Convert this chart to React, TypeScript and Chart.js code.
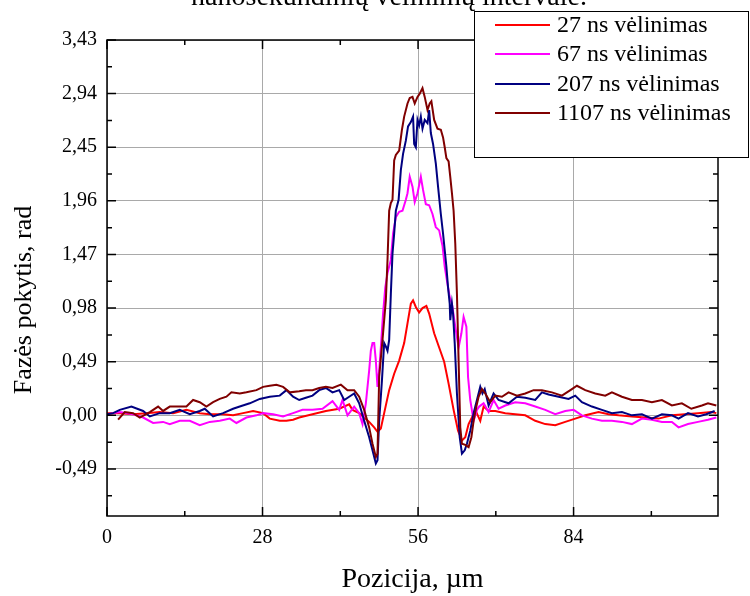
import React, { useEffect, useRef } from 'react';
import { Chart, registerables } from 'chart.js';

Chart.register(...registerables);

// ---------- data ----------
const seriesLabels = ['27 ns vėlinimas', '67 ns vėlinimas', '207 ns vėlinimas', '1107 ns vėlinimas'];
const seriesColors = ['#ff0000', '#ff00ff', '#000080', '#800000'];

const titleText = 'nanosekundinių vėlinimų intervale.';
const xAxisTitle = 'Pozicija, µm';
const yAxisTitle = 'Fazės pokytis, rad';

const xTickValues = [0, 28, 56, 84];
const xTickLabels = ['0', '28', '56', '84'];
const xMinorTicks = [14, 42, 70, 98];
const yTickValues = [-0.49, 0, 0.49, 0.98, 1.47, 1.96, 2.45, 2.94, 3.43];
const yTickLabels = ['-0,49', '0,00', '0,49', '0,98', '1,47', '1,96', '2,45', '2,94', '3,43'];
const yMinorTicks = [-0.735, -0.245, 0.245, 0.735, 1.225, 1.715, 2.205, 2.695, 3.185];

const redX = [0, 2.3, 4.7, 7.1, 9.5, 11.9, 14.3, 16.7, 18.5, 20.9, 22.7, 24.5, 26.3, 28.1, 29.3, 31.1, 32.3, 33.5, 34.6, 37.0, 39.4, 41.8, 43.6,
  44.2, 45.4, 46.3, 47.2, 48.1, 48.7, 49.3, 49.9, 50.8, 51.7, 52.6, 53.5, 54.1, 54.7, 55.1, 55.6, 56.2, 56.8, 57.5, 58.0, 58.9, 59.8, 60.7, 61.5, 62.4, 63.2, 63.9, 64.5, 65.1, 65.7, 66.3, 67.2, 67.8,
  68.7, 69.9, 71.7, 73.5, 75.3, 77.1, 78.9, 80.7, 82.5, 84.3, 86.1, 88.5, 90.3, 92.1, 94.5, 96.9, 99.3, 101.7, 104.0, 106.4, 108.8, 109.7];
const redY = [0.02, 0.02, 0.01, 0.02, 0.03, 0.02, 0.05, 0.02, 0.01, 0.01, 0.0, 0.02, 0.04, 0.02, -0.03, -0.05, -0.05, -0.04, -0.02, 0.01, 0.04, 0.06, 0.1,
  0.05, 0.02, -0.02, -0.06, -0.11, -0.15, -0.12, 0.02, 0.23, 0.38, 0.5, 0.66, 0.84, 1.02, 1.05, 0.99, 0.94, 0.98, 1.0, 0.93, 0.75, 0.62, 0.49, 0.29, 0.05, -0.14, -0.23, -0.2, -0.08, -0.02, 0.05, -0.05, 0.08,
  0.04, 0.04, 0.02, 0.01, 0.0, -0.05, -0.08, -0.09, -0.06, -0.03, 0.0, 0.03, 0.01, 0.0, -0.01, -0.02, -0.03, 0.0, 0.01, 0.02, 0.03, 0.02];

const magentaX = [0, 2.3, 4.7, 6.5, 8.3, 10.1, 11.3, 13.1, 14.9, 16.7, 18.5, 20.3, 22.1, 23.3, 25.1, 26.9, 28.1, 29.9, 31.7, 33.5, 35.2, 37.0, 38.8, 40.6, 41.8, 42.4, 43.3,
  44.5, 45.4, 46.0, 46.6, 47.2, 47.5, 47.8, 48.1, 48.4, 48.7, 49.0, 49.3, 49.7, 50.1, 50.5, 50.8, 51.1, 51.5, 52.0, 52.6, 53.2, 53.8, 54.1, 54.5, 55.0, 55.4, 55.9, 56.5, 56.9, 57.4, 58.0, 58.6, 59.2, 59.8, 60.4, 60.8, 61.3, 61.7, 62.1, 62.7, 63.3, 63.8, 64.2, 64.7, 65.0, 65.4, 66.0, 66.6,
  67.0, 67.8, 68.7, 69.6, 70.5, 71.7, 73.5, 75.3, 77.1, 78.9, 80.7, 82.5, 84.0, 85.5, 87.3, 89.1, 90.9, 92.7, 94.5, 96.3, 98.1, 99.9, 101.7, 102.9, 104.6, 106.4, 108.2, 109.7];
const magentaY = [0.01, 0.03, 0.01, -0.02, -0.07, -0.06, -0.08, -0.05, -0.05, -0.09, -0.06, -0.05, -0.03, -0.07, -0.02, 0.0, 0.02, 0.01, -0.01, 0.02, 0.05, 0.05, 0.06, 0.13, 0.05, 0.14, 0.0,
  0.08, 0.02, -0.08, 0.11, 0.41, 0.59, 0.66, 0.66, 0.5, 0.26, 0.41, 0.62, 0.93, 1.17, 1.3, 1.36, 1.42, 1.66, 1.81, 1.86, 1.87, 1.97, 2.03, 2.18, 2.09, 1.95, 2.03, 2.18, 2.06, 1.93, 1.92, 1.84, 1.72, 1.69, 1.55, 1.36, 1.2, 1.08, 1.02, 0.81, 0.62, 0.75, 0.9, 0.81, 0.35, 0.14, -0.05, 0.05,
  0.08, 0.11, 0.03, 0.14, 0.06, 0.09, 0.12, 0.11, 0.08, 0.05, 0.01, 0.04, 0.05, 0.0, -0.03, -0.05, -0.05, -0.06, -0.08, -0.03, -0.04, -0.06, -0.06, -0.11, -0.08, -0.06, -0.04, -0.02];

const navyX = [0, 1.1, 2.3, 4.4, 6.5, 7.7, 9.5, 11.3, 13.1, 14.9, 16.7, 17.6, 19.1, 20.9, 22.7, 23.9, 25.7, 27.5, 29.3, 31.1, 32.3, 33.5, 34.6, 35.8, 37.0, 38.2, 39.4, 40.6, 41.8, 42.7, 43.6,
  44.5, 45.4, 46.3, 47.2, 47.8, 48.4, 48.7, 49.0, 49.5, 49.9, 50.2, 50.5, 50.8, 51.1, 51.4, 51.7, 52.0, 52.5, 52.9, 53.3, 53.8, 54.2, 54.7, 55.1, 55.3, 55.6, 55.9, 56.2, 56.5, 56.8, 57.2, 57.7, 58.0, 58.3, 58.7, 59.2, 59.6, 60.1, 60.5, 60.8, 61.1, 61.4, 61.7, 61.8, 62.1, 62.3, 62.6, 63.0, 63.5, 63.9, 64.4, 64.8, 65.4, 66.0, 66.6, 67.2, 67.6, 68.0,
  68.7, 69.6, 70.5, 72.3, 73.8, 75.3, 77.1, 78.3, 79.5, 81.3, 83.1, 84.3, 85.5, 87.3, 89.1, 90.9, 92.7, 94.5, 96.3, 98.1, 99.9, 101.7, 102.9, 104.6, 106.4, 107.9, 109.4];
const navyY = [0.01, 0.02, 0.05, 0.08, 0.04, -0.01, 0.02, 0.02, 0.05, 0.01, 0.04, 0.06, -0.01, 0.02, 0.06, 0.08, 0.11, 0.15, 0.17, 0.18, 0.23, 0.17, 0.14, 0.16, 0.18, 0.23, 0.25, 0.21, 0.23, 0.14, 0.17,
  0.2, 0.11, -0.05, -0.2, -0.32, -0.44, -0.41, -0.05, 0.32, 0.66, 0.63, 0.59, 0.69, 1.11, 1.48, 1.66, 1.87, 1.97, 2.24, 2.39, 2.51, 2.64, 2.68, 2.73, 2.48, 2.45, 2.7, 2.65, 2.73, 2.62, 2.7, 2.67, 2.79, 2.58, 2.48, 2.3, 2.09, 1.84, 1.66, 1.51, 1.36, 1.17, 1.02, 0.87, 1.02, 0.93, 0.66, 0.2, -0.2, -0.35, -0.32, -0.26, -0.14, 0.02, 0.14, 0.26, 0.2, 0.24,
  0.09, 0.2, 0.14, 0.11, 0.17, 0.16, 0.14, 0.21, 0.19, 0.17, 0.15, 0.18, 0.12, 0.08, 0.05, 0.02, 0.03, 0.0, 0.01, -0.03, 0.01, 0.0, -0.03, 0.02, -0.01, 0.01, 0.04];

const maroonX = [2.0, 3.2, 4.7, 5.9, 7.7, 9.2, 10.1, 11.3, 13.1, 14.3, 15.5, 16.7, 17.9, 19.1, 20.3, 21.5, 22.4, 23.9, 25.1, 26.9, 28.1, 29.3, 30.5, 31.7, 32.9, 34.6, 35.8, 37.0, 38.2, 39.4, 40.6, 42.1, 43.3,
  44.5, 45.4, 46.3, 47.2, 47.8, 48.4, 48.7, 49.0, 49.6, 50.2, 50.5, 50.8, 51.1, 51.4, 51.7, 52.0, 52.6, 53.1, 53.5, 54.1, 54.5, 55.0, 55.4, 55.9, 56.3, 56.8, 57.2, 57.7, 58.1, 58.4, 58.9, 59.5, 60.1, 60.5, 60.8, 61.1, 61.5, 61.8, 62.1, 62.4, 62.7, 63.0, 63.3, 63.6, 63.9, 64.5, 65.1, 65.6, 66.0, 66.5, 66.9, 67.5, 68.1,
  69.0, 69.9, 71.1, 72.3, 73.8, 75.3, 76.8, 78.3, 80.1, 81.9, 83.7, 84.6, 86.1, 87.9, 89.7, 90.9, 92.7, 94.5, 96.3, 98.1, 99.9, 101.7, 103.5, 105.2, 107.1, 108.2, 109.7];
const maroonY = [-0.04, 0.03, 0.02, -0.02, 0.03, 0.08, 0.04, 0.08, 0.08, 0.08, 0.14, 0.12, 0.08, 0.12, 0.15, 0.17, 0.21, 0.2, 0.21, 0.23, 0.26, 0.27, 0.28, 0.26, 0.21, 0.22, 0.23, 0.23, 0.25, 0.26, 0.25, 0.28, 0.23,
  0.23, 0.17, 0.05, -0.11, -0.26, -0.38, -0.35, 0.35, 0.69, 1.05, 1.42, 1.87, 1.94, 1.97, 2.33, 2.38, 2.42, 2.61, 2.73, 2.85, 2.9, 2.91, 2.85, 2.91, 2.94, 2.99, 2.91, 2.79, 2.85, 2.87, 2.7, 2.62, 2.61, 2.54, 2.45, 2.35, 2.32, 2.18, 2.03, 1.87, 1.57, 1.11, 0.5, -0.11, -0.26, -0.27, -0.29, -0.2, -0.05, 0.08, 0.17, 0.24, 0.2,
  0.12, 0.18, 0.17, 0.21, 0.18, 0.2, 0.23, 0.23, 0.21, 0.18, 0.24, 0.27, 0.23, 0.2, 0.18, 0.21, 0.17, 0.14, 0.14, 0.12, 0.14, 0.09, 0.11, 0.06, 0.09, 0.11, 0.09];

const X_MIN = 0;
const X_MAX = 110;
const Y_MIN = -0.92;
const Y_MAX = 3.43;

// ---------- styling ----------
const SERIF = "'Liberation Serif', 'Times New Roman', serif";
const GRID_COLOR = '#a9a9a9';

function pts(xs: number[], ys: number[]) {
  return xs.map((x, i) => ({ x, y: ys[i] }));
}

const decorPlugin = {
  id: 'decor',
  beforeDraw(chart: any) {
    const ctx = chart.ctx;
    ctx.save();
    ctx.fillStyle = '#ffffff';
    ctx.fillRect(0, 0, chart.width, chart.height);
    ctx.restore();
  },
  afterDatasetsDraw(chart: any) {
    const ctx = chart.ctx;
    const { left, right, top, bottom } = chart.chartArea;
    const xs = chart.scales.x;
    const ys = chart.scales.y;
    ctx.save();
    // frame
    ctx.strokeStyle = '#000';
    ctx.lineWidth = 1.5;
    ctx.strokeRect(left, top, right - left, bottom - top);
    // ticks (inward)
    ctx.lineWidth = 1.5;
    const major = 9;
    const minor = 5;
    ctx.beginPath();
    xTickValues.forEach((v) => {
      const p = xs.getPixelForValue(v);
      ctx.moveTo(p, bottom); ctx.lineTo(p, bottom - major);
      ctx.moveTo(p, top); ctx.lineTo(p, top + major);
    });
    xMinorTicks.forEach((v) => {
      if (v > X_MAX) return;
      const p = xs.getPixelForValue(v);
      ctx.moveTo(p, bottom); ctx.lineTo(p, bottom - minor);
      ctx.moveTo(p, top); ctx.lineTo(p, top + minor);
    });
    yTickValues.forEach((v) => {
      const p = ys.getPixelForValue(v);
      ctx.moveTo(left, p); ctx.lineTo(left + major, p);
      ctx.moveTo(right, p); ctx.lineTo(right - major, p);
    });
    yMinorTicks.forEach((v) => {
      if (v < Y_MIN) return;
      const p = ys.getPixelForValue(v);
      ctx.moveTo(left, p); ctx.lineTo(left + minor, p);
      ctx.moveTo(right, p); ctx.lineTo(right - minor, p);
    });
    ctx.stroke();

    // clipped title at the very top
    ctx.fillStyle = '#000';
    ctx.font = `28px ${SERIF}`;
    ctx.textAlign = 'center';
    ctx.textBaseline = 'alphabetic';
    ctx.fillText(titleText, 389, 5);

    // axis titles
    ctx.font = `28px ${SERIF}`;
    ctx.textAlign = 'center';
    ctx.textBaseline = 'alphabetic';
    ctx.fillText(xAxisTitle, (left + right) / 2, 587);
    ctx.save();
    ctx.font = `26px ${SERIF}`;
    ctx.translate(31, 300);
    ctx.rotate(-Math.PI / 2);
    ctx.fillText(yAxisTitle, 0, 0);
    ctx.restore();

    // legend box
    const bx = 474, by = 11, bw = 274, bh = 146;
    ctx.fillStyle = '#fff';
    ctx.fillRect(bx, by, bw, bh);
    ctx.strokeStyle = '#000';
    ctx.lineWidth = 1;
    ctx.strokeRect(bx + 0.5, by + 0.5, bw, bh);
    const rows = [25, 54, 84, 113];
    ctx.font = `24px ${SERIF}`;
    ctx.textAlign = 'left';
    ctx.textBaseline = 'middle';
    seriesLabels.forEach((lab, i) => {
      ctx.strokeStyle = seriesColors[i];
      ctx.lineWidth = 2;
      ctx.beginPath();
      ctx.moveTo(495, rows[i]);
      ctx.lineTo(550, rows[i]);
      ctx.stroke();
      ctx.fillStyle = '#000';
      ctx.fillText(lab, 557, rows[i] + 1);
    });
    ctx.restore();
  },
};

export default function App() {
  const ref = useRef<HTMLCanvasElement | null>(null);
  useEffect(() => {
    if (!ref.current) return;
    const xsArr = [redX, magentaX, navyX, maroonX];
    const ysArr = [redY, magentaY, navyY, maroonY];
    const datasets = seriesLabels.map((label, i) => ({
      label,
      data: pts(xsArr[i], ysArr[i]),
      borderColor: seriesColors[i],
      backgroundColor: seriesColors[i],
      borderWidth: 2,
      pointRadius: 0,
      tension: 0,
      fill: false,
      order: 3 - i,
    }));
    const chart = new Chart(ref.current, {
      type: 'line',
      data: { datasets },
      options: {
        animation: false,
        responsive: false,
        devicePixelRatio: 1,
        parsing: false as any,
        layout: { padding: { left: 0, right: 32, top: 40, bottom: 0 } },
        plugins: { legend: { display: false }, title: { display: false }, tooltip: { enabled: false } },
        scales: {
          x: {
            type: 'linear',
            min: X_MIN,
            max: X_MAX,
            afterBuildTicks: (s: any) => { s.ticks = xTickValues.map((v) => ({ value: v })); },
            afterFit: (s: any) => { s.height = 80; },
            ticks: {
              callback: (_v: any, i: number) => xTickLabels[i],
              font: { family: SERIF, size: 20 },
              color: '#000',
              padding: 10,
              maxRotation: 0,
              autoSkip: false,
            },
            grid: { color: GRID_COLOR, lineWidth: 1, drawTicks: false },
            border: { display: false },
          },
          y: {
            type: 'linear',
            min: Y_MIN,
            max: Y_MAX,
            afterBuildTicks: (s: any) => { s.ticks = yTickValues.map((v) => ({ value: v })); },
            afterFit: (s: any) => { s.width = 107; },
            ticks: {
              callback: (_v: any, i: number) => yTickLabels[i],
              font: { family: SERIF, size: 20 },
              color: '#000',
              padding: 10,
              autoSkip: false,
            },
            grid: { color: GRID_COLOR, lineWidth: 1, drawTicks: false },
            border: { display: false },
          },
        },
      },
      plugins: [decorPlugin],
    });
    return () => chart.destroy();
  }, []);
  return (
    <div style={{ position: 'absolute', left: 0, top: 0, width: 750, height: 596 }}>
      <canvas ref={ref} width={750} height={596} style={{ width: 750, height: 596, display: 'block' }} />
    </div>
  );
}
